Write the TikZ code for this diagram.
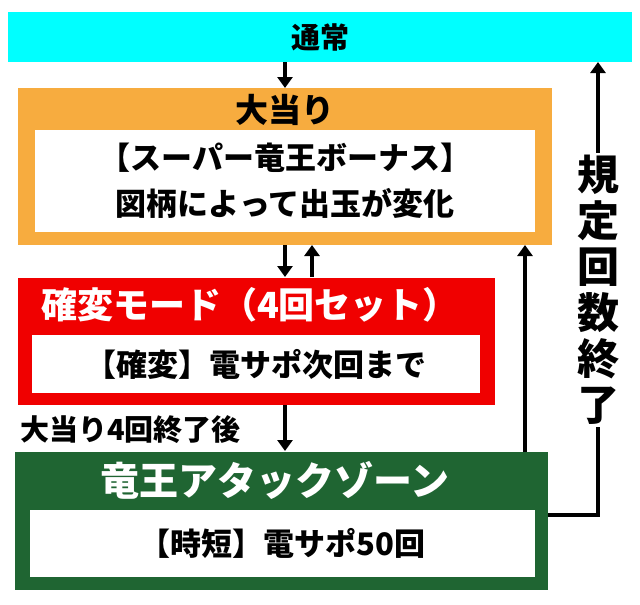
\documentclass[tikz,border=0pt]{standalone}
\usepackage{fontspec}
\newfontfamily\jp{Noto Sans CJK JP}
\usetikzlibrary{arrows.meta}
\definecolor{topcyan}{HTML}{00FFFF}
\definecolor{bonusorange}{HTML}{F7AC3F}
\definecolor{kakured}{HTML}{F00000}
\definecolor{zonegreen}{HTML}{1F6532}
\tikzset{
  frame/.style={draw=none,anchor=north west,inner sep=0pt},
  inbox/.style={fill=white,anchor=north west,inner sep=0pt},
  flow/.style={line width=4.5pt,-{Triangle[length=11pt,width=15pt]}},
  txt/.style={font=\jp\bfseries\fontsize{31pt}{46pt}\selectfont,align=center}
}
\begin{document}
\begin{tikzpicture}[x=1pt,y=-1pt]
\useasboundingbox (0,0) rectangle (640,605);
% boxes
\node[frame,fill=topcyan,minimum width=624pt,minimum height=50pt] (normal) at (8,12) {};
\node[txt,font=\jp\bfseries\fontsize{29pt}{32pt}\selectfont] at (normal.center) {通常};
\node[frame,fill=bonusorange,minimum width=534pt,minimum height=157pt] (bonus) at (18,88) {};
\node[inbox,minimum width=500pt,minimum height=102pt] (bonusin) at (35,130) {};
\node[txt,font=\jp\bfseries\fontsize{33pt}{36pt}\selectfont] at (285,110) {大当り};
\node[txt] at (bonusin.center) {【スーパー竜王ボーナス】\\図柄によって出玉が変化};
\node[frame,fill=kakured,minimum width=477pt,minimum height=127pt] (kakuhen) at (18,278) {};
\node[inbox,minimum width=448pt,minimum height=58pt] (kakuin) at (32,335) {};
\node[txt,text=white,font=\jp\bfseries\fontsize{36pt}{40pt}\selectfont] at (250,305) {確変モード（4回セット）};
\node[txt] at (kakuin.center) {【確変】電サポ次回まで};
\node[frame,fill=zonegreen,minimum width=533pt,minimum height=138pt] (zone) at (15,452) {};
\node[inbox,minimum width=505pt,minimum height=67pt] (zonein) at (30,510) {};
\node[txt,text=white,font=\jp\bfseries\fontsize{39pt}{42pt}\selectfont] at (275,480) {竜王アタックゾーン};
\node[txt] at (zonein.center) {【時短】電サポ50回};
\node[txt,anchor=west,inner sep=0pt,font=\jp\bfseries\fontsize{29pt}{32pt}\selectfont] (after) at (20,430) {大当り4回終了後};
% connectors
\draw[flow] (285,62) -- (285,88);
\draw[flow] (285,245) -- (285,277);
\draw[flow] (312,277) -- (312,245);
\draw[flow] (285,405) -- (285,451);
\draw[flow] (525,452) -- (525,245);
\draw[flow] (548,515) -- (598,515) -- (598,62);
\node[fill=white,inner sep=2pt,font=\jp\bfseries\fontsize{42pt}{46pt}\selectfont,align=center] (limit) at (598,290) {規\\定\\回\\数\\終\\了};
\end{tikzpicture}
\end{document}
